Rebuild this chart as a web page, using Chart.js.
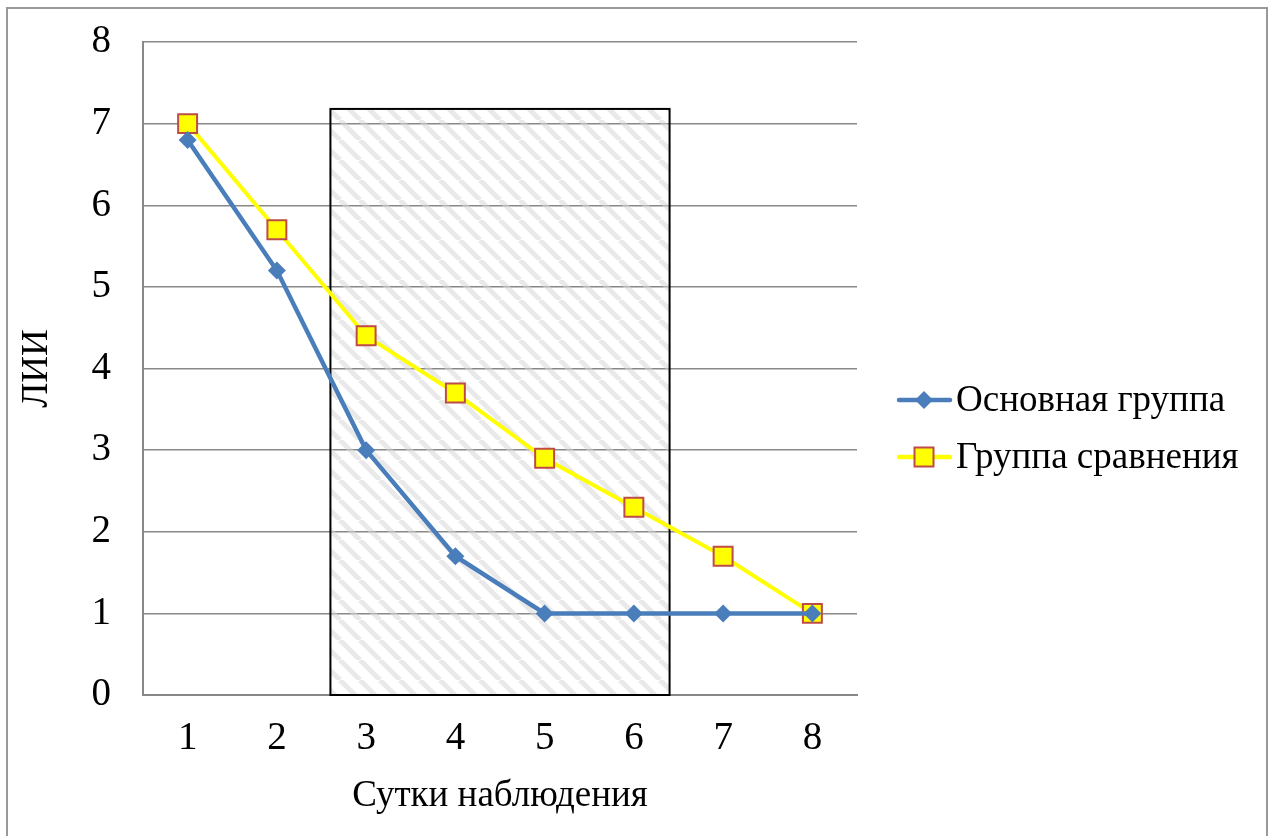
<!DOCTYPE html>
<html>
<head>
<meta charset="utf-8">
<script src="https://cdn.jsdelivr.net/npm/chart.js@4/dist/chart.umd.min.js"></script>
<style>
  html, body { margin: 0; padding: 0; background: #fff; }
  #wrap { position: relative; width: 1275px; height: 836px; }
</style>
</head>
<body>
<div id="wrap"><canvas id="c" width="1275" height="836"></canvas></div>
<script>
// ---- data ----
const days = ['1', '2', '3', '4', '5', '6', '7', '8'];
const mainGroup = [6.8, 5.2, 3.0, 1.7, 1.0, 1.0, 1.0, 1.0];
const compareGroup = [7.0, 5.7, 4.4, 3.7, 2.9, 2.3, 1.7, 1.0];
const seriesNames = ['Основная группа', 'Группа сравнения'];
const yTicks = [0, 1, 2, 3, 4, 5, 6, 7, 8];
const xTitle = 'Сутки наблюдения';
const yTitle = 'ЛИИ';
// highlighted period (in data units: x from 2.6 to 6.4, y from 0 to 7.18)
const boxX = [2.6, 6.4];
const boxY = [0, 7.18];

const FONT = "'Liberation Serif', 'Times New Roman', serif";
const BLUE = '#4A7EBB';
const YELLOW = '#FFFF00';
const RED = '#BE4B48';

// hatch pattern
function makePattern(ctx) {
  const s = 20;
  const p = document.createElement('canvas');
  p.width = s; p.height = s;
  const g = p.getContext('2d');
  g.strokeStyle = 'rgba(215,215,215,0.55)';
  g.lineWidth = 5;
  g.beginPath();
  for (let k = -1; k <= 1; k++) {
    g.moveTo(k * s, 0);
    g.lineTo(k * s + s, s);
  }
  g.stroke();
  return ctx.createPattern(p, 'repeat');
}

const boxPlugin = {
  id: 'hatchBox',
  beforeDatasetsDraw(chart) {
    const { ctx, scales } = chart;
    const x0 = scales.x.getPixelForValue(boxX[0]);
    const x1 = scales.x.getPixelForValue(boxX[1]);
    const y0 = scales.y.getPixelForValue(boxY[1]);
    const y1 = scales.y.getPixelForValue(boxY[0]);
    ctx.save();
    ctx.fillStyle = makePattern(ctx);
    ctx.fillRect(x0, y0, x1 - x0, y1 - y0);
    ctx.strokeStyle = '#000';
    ctx.lineWidth = 2;
    ctx.strokeRect(x0, y0, x1 - x0, y1 - y0);
    ctx.restore();
  }
};

const framePlugin = {
  id: 'frame',
  afterDraw(chart) {
    const { ctx } = chart;
    ctx.save();
    ctx.strokeStyle = '#999';
    ctx.lineWidth = 2;
    ctx.beginPath();
    ctx.moveTo(7, 840);
    ctx.lineTo(7, 8);
    ctx.lineTo(1267, 8);
    ctx.lineTo(1267, 840);
    ctx.stroke();
    ctx.restore();
  }
};

function drawMarker(ctx, type, x, y) {
  ctx.save();
  if (type === 0) {
    const r = 9;
    ctx.fillStyle = BLUE;
    ctx.beginPath();
    ctx.moveTo(x, y - r); ctx.lineTo(x + r, y); ctx.lineTo(x, y + r); ctx.lineTo(x - r, y);
    ctx.closePath(); ctx.fill();
  } else {
    const h = 9.5;
    ctx.fillStyle = YELLOW;
    ctx.strokeStyle = RED;
    ctx.lineWidth = 2;
    ctx.fillRect(x - h, y - h, 2 * h, 2 * h);
    ctx.strokeRect(x - h, y - h, 2 * h, 2 * h);
  }
  ctx.restore();
}

const legendPlugin = {
  id: 'customLegend',
  afterDraw(chart) {
    const { ctx } = chart;
    const rows = [400, 457];
    chart.data.datasets.forEach((ds, i) => {
      const y = rows[i];
      ctx.save();
      ctx.strokeStyle = ds.borderColor;
      ctx.lineWidth = 4.5;
      ctx.lineCap = 'round';
      ctx.beginPath();
      ctx.moveTo(899, y); ctx.lineTo(950, y);
      ctx.stroke();
      ctx.restore();
      drawMarker(ctx, i, 924, y);
      ctx.save();
      ctx.fillStyle = '#000';
      ctx.font = '37px ' + FONT;
      ctx.textBaseline = 'middle';
      ctx.fillText(ds.label, 956, y + 1);
      ctx.restore();
    });
  }
};

new Chart(document.getElementById('c'), {
  type: 'line',
  data: {
    labels: days,
    datasets: [
      {
        label: seriesNames[0],
        data: mainGroup,
        borderColor: BLUE,
        backgroundColor: BLUE,
        borderWidth: 4.5,
        pointStyle: 'rectRot',
        pointRadius: 9,
        pointBorderWidth: 0,
        pointBackgroundColor: BLUE,
        tension: 0
      },
      {
        label: seriesNames[1],
        data: compareGroup,
        borderColor: YELLOW,
        backgroundColor: YELLOW,
        borderWidth: 4,
        pointStyle: 'rect',
        pointRadius: 13.4,
        pointBorderWidth: 2,
        pointBorderColor: RED,
        pointBackgroundColor: YELLOW,
        tension: 0
      }
    ]
  },
  options: {
    responsive: false,
    animation: false,
    devicePixelRatio: 1,
    layout: { padding: { left: 0, right: 418, top: 42, bottom: 0 } },
    plugins: {
      legend: { display: false },
      tooltip: { enabled: false }
    },
    scales: {
      x: {
        type: 'linear',
        min: 0.5,
        max: 8.5,
        afterBuildTicks(scale) { scale.ticks = days.map(d => ({ value: Number(d) })); },
        afterFit(scale) { scale.height = 141; scale.paddingLeft = 0; scale.paddingRight = 0; },
        grid: { display: false, drawTicks: false },
        border: { display: true, color: '#888', width: 2 },
        ticks: {
          padding: 20,
          color: '#000',
          font: { family: FONT, size: 39 },
          callback: (v) => String(v)
        },
        title: {
          display: true,
          text: xTitle,
          color: '#000',
          font: { family: FONT, size: 37 },
          padding: { top: 0, bottom: 18 }
        }
      },
      y: {
        min: 0,
        max: 8,
        afterBuildTicks(scale) { scale.ticks = yTicks.map(v => ({ value: v })); },
        afterFit(scale) { scale.width = 143; scale.paddingTop = 0; scale.paddingBottom = 0; },
        grid: { color: '#888', lineWidth: 1.5, drawTicks: false },
        border: { display: true, color: '#888', width: 2 },
        ticks: {
          padding: 32,
          color: '#000',
          font: { family: FONT, size: 39 }
        },
        title: {
          display: true,
          text: yTitle,
          color: '#000',
          font: { family: FONT, size: 37 },
          padding: { top: 15, bottom: 0 }
        }
      }
    }
  },
  plugins: [boxPlugin, legendPlugin, framePlugin]
});
</script>
</body>
</html>
